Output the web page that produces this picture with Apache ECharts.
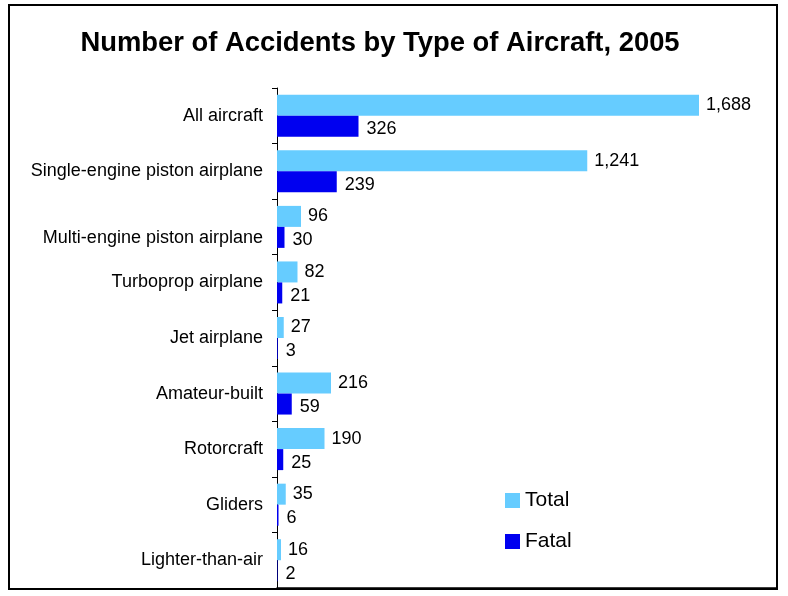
<!DOCTYPE html>
<html>
<head>
<meta charset="utf-8">
<script src="https://cdn.jsdelivr.net/npm/echarts@6/dist/echarts.min.js"></script>
<style>html,body{margin:0;padding:0;background:#fff}#c{width:788px;height:596px}</style>
</head>
<body>
<div id="c"></div>
<script>
const categories = ['All aircraft','Single-engine piston airplane','Multi-engine piston airplane','Turboprop airplane','Jet airplane','Amateur-built','Rotorcraft','Gliders','Lighter-than-air'];
const totalValues = [1688, 1241, 96, 82, 27, 216, 190, 35, 16];
const fatalValues = [326, 239, 30, 21, 3, 59, 25, 6, 2];
const titleText = 'Number of Accidents by Type of Aircraft, 2005';

const FONT = '"Liberation Sans", Arial, sans-serif';
const chart = echarts.init(document.getElementById('c'), null, {renderer: 'canvas'});
const fmt = v => Number(v).toLocaleString('en-US');

chart.setOption({
  backgroundColor: '#fff',
  animation: false,
  title: {
    text: titleText,
    left: 375, top: 25, textAlign: 'center',
    textStyle: {fontFamily: FONT, fontSize: 27.4, fontWeight: 'bold', color: '#000'}
  },
  graphic: [{
    type: 'rect', silent: true, z: 100,
    shape: {x: 9, y: 5, width: 768, height: 584},
    style: {fill: 'none', stroke: '#000', lineWidth: 2}
  }],
  legend: {
    orient: 'vertical', left: 500, top: 485, itemGap: 20,
    itemWidth: 15, itemHeight: 15, icon: 'rect',
    textStyle: {fontFamily: FONT, fontSize: 21, color: '#000'},
    data: ['Total', 'Fatal']
  },
  grid: {left: 277, right: 11, top: 88, bottom: 8, containLabel: false},
  xAxis: {
    type: 'value', min: 0, max: 2000,
    axisLine: {show: true, lineStyle: {color: '#000', width: 1.5}},
    axisTick: {show: false}, axisLabel: {show: false}, splitLine: {show: false}
  },
  yAxis: {
    type: 'category', data: categories, inverse: true,
    axisLine: {show: true, lineStyle: {color: '#000', width: 1}},
    axisTick: {show: true, length: 5, lineStyle: {color: '#000'}},
    axisLabel: {
      fontFamily: FONT, fontSize: 18, color: '#000', margin: 14,
      formatter: (v) => v === 'Multi-engine piston airplane' ? '{m|' + v + '}' : v,
      rich: {m: {fontFamily: FONT, fontSize: 18, color: '#000', padding: [22, 0, 0, 0]}}
    }
  },
  series: [
    {
      name: 'Total', type: 'bar', data: totalValues, barWidth: 21, barGap: '0%',
      itemStyle: {color: '#66CCFF'},
      label: {show: true, position: 'right', distance: 7, fontFamily: FONT, fontSize: 18, color: '#000', formatter: p => fmt(p.value)}
    },
    {
      name: 'Fatal', type: 'bar', data: fatalValues, barWidth: 21, barGap: '0%',
      itemStyle: {color: '#0000F0'},
      label: {show: true, position: 'right', distance: 8, offset: [0, 3], fontFamily: FONT, fontSize: 18, color: '#000', formatter: p => fmt(p.value)}
    }
  ]
});
</script>
</body>
</html>
